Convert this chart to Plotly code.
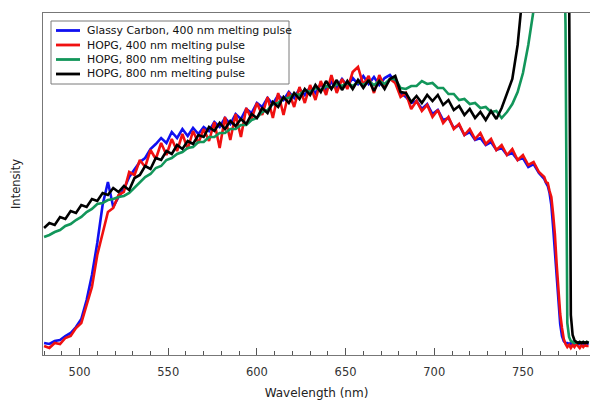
import plotly.graph_objects as go

# ---- data (intensity in arbitrary units) ----
wavelength = [480, 483, 486, 489, 492, 495, 498, 501, 504, 507,
              510, 513, 516, 519, 522, 525, 528, 531, 534, 537,
              540, 543, 546, 549, 552, 555, 558, 561, 564, 567,
              570, 573, 576, 579, 582, 585, 588, 591, 594, 597,
              600, 603, 606, 609, 612, 615, 618, 621, 624, 627,
              630, 633, 636, 639, 642, 645, 648, 651, 654, 657,
              660, 663, 666, 669, 672, 675, 678, 681, 684, 687,
              690, 693, 696, 699, 702, 705, 708, 711, 714, 717,
              720, 723, 726, 729, 732, 735, 738, 741, 744, 747,
              750, 753, 756, 759,
              762, 763, 764, 765, 766, 767, 768, 769, 770, 771,
              772, 773, 774, 775, 776, 777, 778, 779, 780, 781,
              782, 783, 784, 785, 786, 787]

glassy_400 = [12, 11, 14, 15, 19, 22, 28, 36, 55, 80,
              112, 150, 173, 148, 158, 166, 178, 186, 193, 197,
              206, 211, 217, 212, 223, 217, 226, 219, 227, 221,
              228, 224, 233, 228, 237, 231, 241, 236, 246, 242,
              252, 248, 257, 251, 260, 255, 263, 257, 266, 260,
              268, 262, 271, 265, 273, 267, 276, 269, 277, 271,
              279, 271, 278, 270, 277, 280, 273, 262, 258, 252,
              254, 246, 251, 241, 245, 235, 237, 227, 230, 220,
              223, 215, 217, 210, 213, 205, 207, 200, 202, 195,
              197, 188, 191, 182,
              176, 172, 169, 162, 150, 128, 104, 75, 50, 31,
              19, 14, 12, 12, 11, 12, 11, 12, 11, 12,
              11, 12, 11, 12, 11, 12]

hopg_400 = [9, 7, 12, 11, 17, 19, 27, 32, 50, 68,
            100, 122, 143, 147, 160, 163, 183, 180, 195, 188,
            205, 196, 212, 200, 216, 204, 221, 206, 224, 212,
            226, 214, 233, 207, 238, 215, 241, 218, 247, 236,
            252, 240, 258, 237, 262, 240, 263, 248, 268, 252,
            270, 255, 274, 260, 280, 262, 276, 266, 283, 288,
            270, 279, 262, 280, 268, 276, 272, 258, 262, 246,
            254, 244, 250, 238, 245, 232, 238, 226, 231, 220,
            226, 216, 222, 211, 216, 205, 210, 200, 206, 195,
            200, 190, 193, 183,
            178, 173, 172, 164, 158, 141, 121, 91, 64, 41,
            27, 16, 11, 8, 10, 7, 10, 8, 11, 9,
            7, 10, 8, 10, 9, 9]

hopg_800_a = [118, 120, 123, 125, 129, 131, 135, 138, 143, 146,
              151, 152, 155, 156, 158, 159, 162, 167, 172, 178,
              181, 187, 189, 195, 197, 201, 203, 207, 208, 213,
              213, 218, 218, 222, 222, 226, 226, 230, 230, 235,
              237, 243, 245, 251, 252, 257, 257, 261, 260, 265,
              263, 267, 265, 269, 267, 271, 269, 272, 269, 273,
              270, 274, 270, 274, 271, 276, 276, 267, 266, 269,
              269, 274, 271, 272, 267, 267, 261, 261, 255, 256,
              251, 252, 247, 248, 243, 244, 237, 243, 251, 263,
              282, 310, 345, 420,
              420, 420, 420, 420, 420, 420, 420, 420, 420, 420,
              420, 420, 330, 32, 18, 14, 13, 12, 13, 12,
              13, 12, 13, 12, 13, 12]

hopg_800_b = [127, 132, 130, 138, 136, 144, 142, 150, 148, 156,
              154, 162, 160, 167, 163, 169, 165, 177, 180, 189,
              186, 197, 195, 204, 201, 210, 206, 214, 211, 220,
              218, 228, 224, 232, 226, 234, 229, 236, 231, 241,
              237, 247, 242, 253, 248, 258, 252, 262, 256, 266,
              260, 270, 263, 274, 266, 275, 265, 274, 266, 275,
              267, 275, 264, 274, 266, 276, 279, 263, 262, 253,
              259, 252, 260, 254, 260, 250, 255, 245, 249, 240,
              246, 237, 243, 235, 244, 236, 247, 262, 276, 310,
              355, 420, 420, 420,
              420, 420, 420, 420, 420, 420, 420, 420, 420, 420,
              420, 420, 420, 420, 380, 40, 20, 15, 13, 12,
              13, 12, 13, 12, 13, 12]

series_names = ["Glassy Carbon, 400 nm melting pulse",
                "HOPG, 400 nm melting pulse",
                "HOPG, 800 nm melting pulse",
                "HOPG, 800 nm melting pulse"]
series_values = [glassy_400, hopg_400, hopg_800_a, hopg_800_b]
series_colors = ["#1010F0", "#F01010", "#12965A", "#000000"]

for vals in series_values:
    assert len(vals) == len(wavelength), len(vals)

FONT = "DejaVu Sans"

fig = go.Figure()
for name, vals, col in zip(series_names, series_values, series_colors):
    fig.add_trace(go.Scatter(x=wavelength, y=vals, mode="lines", name=name,
                             line=dict(color=col, width=2.6), showlegend=False))

# hand-built legend (box, line samples, labels)
L, T, B = 43, 13, 355
PW, PH = 547, 342
def px(x):
    return (x - L) / PW
def py(y):
    return (B - y) / PH

shapes = [dict(type="rect", xref="paper", yref="paper",
               x0=px(51), x1=px(289), y0=py(84), y1=py(21),
               line=dict(color="#7a7a7a", width=1), fillcolor="white", layer="above")]
annotations = []
row_y = [30.5, 45, 59.5, 74]
for name, col, yy in zip(series_names, series_colors, row_y):
    shapes.append(dict(type="line", xref="paper", yref="paper",
                       x0=px(56), x1=px(80), y0=py(yy), y1=py(yy),
                       line=dict(color=col, width=2.8), layer="above"))
    annotations.append(dict(xref="paper", yref="paper", x=px(85), y=py(yy),
                            xanchor="left", yanchor="middle", showarrow=False,
                            text=name, font=dict(family=FONT, size=10.9, color="#111")))

fig.update_layout(
    width=590, height=400,
    margin=dict(l=L, r=0, t=T, b=400 - B),
    paper_bgcolor="white", plot_bgcolor="white",
    shapes=shapes, annotations=annotations,
    font=dict(family=FONT, color="#222"),
    xaxis=dict(range=[479.4, 787.8], showline=True, linecolor="#777", linewidth=1,
               mirror=True, ticks="inside", ticklen=7, tickcolor="#555", tickwidth=1,
               tick0=500, dtick=50, ticklabelstandoff=6,
               minor=dict(tick0=500, dtick=10, ticks="inside", ticklen=4,
                          tickcolor="#555", tickwidth=1),
               showgrid=False, zeroline=False,
               tickfont=dict(family=FONT, size=11.5, color="#333"),
               title=dict(text="Wavelength (nm)", font=dict(family=FONT, size=12, color="#222"),
                          standoff=12)),
    yaxis=dict(range=[0, 342], showline=True, linecolor="#777", linewidth=1,
               ticks="", showticklabels=False, showgrid=False, zeroline=False,
               title=dict(text="Intensity", font=dict(family=FONT, size=11.5, color="#222"),
                          standoff=18)),
)

fig.write_html("out.html")
